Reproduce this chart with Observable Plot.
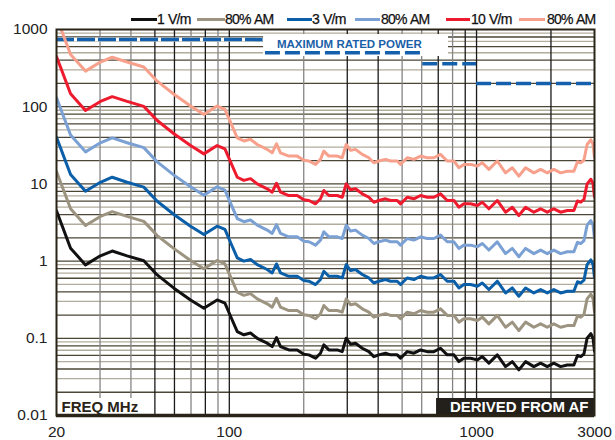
<!DOCTYPE html>
<html><head><meta charset="utf-8">
<script src="https://cdn.jsdelivr.net/npm/d3@7"></script>
<script src="https://cdn.jsdelivr.net/npm/@observablehq/plot@0.6"></script>
<style>
body{margin:0;background:#fff;font-family:Arial,"Liberation Sans",sans-serif}
#wrap{position:relative;width:615px;height:440px;overflow:hidden}
#legend{position:absolute;left:0;top:0;width:615px;height:30px;pointer-events:none}
.sw{position:absolute;height:3px;top:18px}
.lt{position:absolute;top:10px;font-size:14px;letter-spacing:-0.8px;word-spacing:1px;color:#111;line-height:18px;white-space:nowrap;-webkit-text-stroke:0.25px #111}
</style></head><body><div id="wrap"><div id="legend"></div></div>
<script>
// ---- data ----
const freqMHz = [20, 22.8, 26.2, 30.1, 33.6, 38.6, 45.1, 51.1, 59.7, 69.7, 78.9, 89.3, 96, 102, 107.7, 114.5, 121.8, 129.7, 142.3, 149.1, 155.2, 161.1, 174.1, 188.2, 200.2, 209.8, 223.3, 233.8, 241.2, 252.7, 273.3, 286.2, 297.1, 309.3, 323.9, 345, 366.8, 384.2, 402.5, 428.4, 448.8, 477.7, 492.8, 524.4, 557.8, 593.6, 631.7, 672, 715, 761, 810, 848, 889, 946, 1007, 1055, 1122, 1213, 1310, 1395, 1483, 1579, 1705, 1816, 1932, 2054, 2188, 2328, 2476, 2560, 2640, 2720, 2800, 2900, 2960, 3000];

const w1Vm = [4.47, 1.47, 0.893, 1.17, 1.35, 1.17, 1.01, 0.662, 0.446, 0.314, 0.245, 0.314, 0.285, 0.182, 0.122, 0.111, 0.117, 0.100, 0.0864, 0.0781, 0.102, 0.0781, 0.0707, 0.0707, 0.0622, 0.0610, 0.0552, 0.0641, 0.0821, 0.0707, 0.0707, 0.0672, 0.100, 0.0839, 0.0864, 0.0744, 0.0672, 0.0579, 0.0610, 0.0641, 0.0610, 0.0610, 0.0552, 0.0672, 0.0641, 0.0707, 0.0672, 0.0672, 0.0744, 0.0610, 0.0610, 0.0499, 0.0552, 0.0552, 0.0525, 0.0579, 0.0476, 0.0610, 0.0430, 0.0499, 0.0390, 0.0499, 0.0430, 0.0476, 0.0430, 0.0476, 0.0430, 0.0452, 0.0452, 0.060, 0.058, 0.063, 0.100, 0.115, 0.100, 0.068];

const w1VmAM = [14.5, 4.76, 2.89, 3.79, 4.37, 3.79, 3.27, 2.14, 1.45, 1.02, 0.794, 1.02, 0.923, 0.590, 0.395, 0.360, 0.379, 0.324, 0.280, 0.253, 0.330, 0.253, 0.229, 0.229, 0.202, 0.198, 0.179, 0.208, 0.266, 0.229, 0.229, 0.218, 0.324, 0.272, 0.280, 0.241, 0.218, 0.188, 0.198, 0.208, 0.198, 0.198, 0.179, 0.218, 0.208, 0.229, 0.218, 0.218, 0.241, 0.198, 0.198, 0.162, 0.179, 0.179, 0.170, 0.188, 0.154, 0.198, 0.139, 0.162, 0.126, 0.162, 0.139, 0.154, 0.139, 0.154, 0.139, 0.146, 0.146, 0.194, 0.188, 0.204, 0.324, 0.373, 0.324, 0.220];

const w3Vm = [40.2, 13.2, 8.04, 10.5, 12.2, 10.5, 9.09, 5.96, 4.01, 2.83, 2.21, 2.83, 2.57, 1.64, 1.10, 1.00, 1.05, 0.900, 0.778, 0.703, 0.918, 0.703, 0.636, 0.636, 0.560, 0.549, 0.497, 0.577, 0.739, 0.636, 0.636, 0.605, 0.900, 0.755, 0.778, 0.670, 0.605, 0.521, 0.549, 0.577, 0.549, 0.549, 0.497, 0.605, 0.577, 0.636, 0.605, 0.605, 0.670, 0.549, 0.549, 0.449, 0.497, 0.497, 0.473, 0.521, 0.428, 0.549, 0.387, 0.449, 0.351, 0.449, 0.387, 0.428, 0.387, 0.428, 0.387, 0.407, 0.407, 0.540, 0.522, 0.567, 0.900, 1.035, 0.900, 0.612];

const w3VmAM = [130, 42.9, 26.0, 34.1, 39.4, 34.1, 29.5, 19.3, 13.0, 9.16, 7.14, 9.16, 8.31, 5.31, 3.56, 3.24, 3.41, 2.92, 2.52, 2.28, 2.97, 2.28, 2.06, 2.06, 1.81, 1.78, 1.61, 1.87, 2.39, 2.06, 2.06, 1.96, 2.92, 2.45, 2.52, 2.17, 1.96, 1.69, 1.78, 1.87, 1.78, 1.78, 1.61, 1.96, 1.87, 2.06, 1.96, 1.96, 2.17, 1.78, 1.78, 1.46, 1.61, 1.61, 1.53, 1.69, 1.39, 1.78, 1.25, 1.46, 1.14, 1.46, 1.25, 1.39, 1.25, 1.39, 1.25, 1.32, 1.32, 1.75, 1.69, 1.84, 2.92, 3.35, 2.92, 1.98];

const w10Vm = [447, 147, 89.3, 117, 135, 117, 101, 66.2, 44.6, 31.4, 24.5, 31.4, 28.5, 18.2, 12.2, 11.1, 11.7, 10.0, 8.64, 7.81, 10.2, 7.81, 7.07, 7.07, 6.22, 6.10, 5.52, 6.41, 8.21, 7.07, 7.07, 6.72, 10.0, 8.39, 8.64, 7.44, 6.72, 5.79, 6.10, 6.41, 6.10, 6.10, 5.52, 6.72, 6.41, 7.07, 6.72, 6.72, 7.44, 6.10, 6.10, 4.99, 5.52, 5.52, 5.25, 5.79, 4.76, 6.10, 4.30, 4.99, 3.90, 4.99, 4.30, 4.76, 4.30, 4.76, 4.30, 4.52, 4.52, 6.0, 5.8, 6.3, 10.0, 11.5, 10.0, 6.8];

const w10VmAM = [1448, 476, 289, 379, 437, 379, 327, 214, 145, 102, 79.4, 102, 92.3, 59.0, 39.5, 36.0, 37.9, 32.4, 28.0, 25.3, 33.0, 25.3, 22.9, 22.9, 20.2, 19.8, 17.9, 20.8, 26.6, 22.9, 22.9, 21.8, 32.4, 27.2, 28.0, 24.1, 21.8, 18.8, 19.8, 20.8, 19.8, 19.8, 17.9, 21.8, 20.8, 22.9, 21.8, 21.8, 24.1, 19.8, 19.8, 16.2, 17.9, 17.9, 17.0, 18.8, 15.4, 19.8, 13.9, 16.2, 12.6, 16.2, 13.9, 15.4, 13.9, 15.4, 13.9, 14.6, 14.6, 19.4, 18.8, 20.4, 32.4, 37.3, 32.4, 22.0];

const seriesNames = ["1 V/m", "80% AM", "3 V/m", "80% AM", "10 V/m", "80% AM"];
const seriesValues = [w1Vm, w1VmAM, w3Vm, w3VmAM, w10Vm, w10VmAM];

// maximum rated power (W) steps
const powerFrom = [20, 140, 606, 1000];
const powerTo   = [137, 600, 1000, 3000];
const powerW    = [740, 500, 360, 200];

const xTicks = [20, 100, 1000, 3000];
const yTicks = [0.01, 0.1, 1, 10, 100, 1000];
const xGridDark = [50, 60, 80, 100, 300, 400, 700, 900, 1000, 2000];
const xGridLight = [30, 40, 70, 90, 200, 500, 600, 800];

// ---- styles ----
const seriesColors = ["#111111", "#9c9480", "#0b5ea8", "#7ba0d3", "#ee1b2f", "#f7a08b"];
const legendPos = [[131, 26, 157], [197, 28, 225], [287, 25, 312], [355, 25, 381], [446, 24, 471], [519, 26, 547]];

const yGridDark = [], yGridLight = [];
for (const base of [0.01, 0.1, 1, 10, 100]) {
  for (let m = 1; m <= 9; m++) {
    const v = +(m * base).toPrecision(3);
    if ([1, 2, 4, 6, 8].includes(m)) yGridDark.push(v); else yGridLight.push(v);
  }
}

const table = [];
seriesValues.forEach((vals, i) => vals.forEach((v, j) => table.push({f: freqMHz[j], v, s: i})));
const steps = powerW.map((w, i) => ({x1: powerFrom[i], x2: powerTo[i], y: w}));

const lineMarks = seriesValues.map((_, i) =>
  Plot.line(table.filter(d => d.s === i), {x: "f", y: "v", stroke: seriesColors[i], strokeWidth: 3, strokeLinejoin: "round", clip: true}));

const chart = Plot.plot({
  width: 615, height: 440,
  marginTop: 29, marginBottom: 25, marginLeft: 56, marginRight: 21,
  x: {type: "log", domain: [20, 3000]},
  y: {type: "log", domain: [0.01, 1000]},
  style: {fontFamily: "Arial, 'Liberation Sans', sans-serif", fontSize: "15.5px", color: "#222", background: "transparent", overflow: "visible"},
  marks: [
    Plot.ruleY(yGridLight, {stroke: "#b2ac9c", strokeWidth: 1.3}),
    Plot.ruleY(yGridDark, {stroke: "#4c4636", strokeWidth: 1.3}),
    Plot.ruleX(xGridLight, {stroke: "#858585", strokeWidth: 1.3}),
    Plot.ruleX(xGridDark, {stroke: "#1a1a1a", strokeWidth: 1.3}),
    Plot.rect([{x1: 137.6, x2: 770, y1: 447, y2: 861}], {x1: "x1", x2: "x2", y1: "y1", y2: "y2", fill: "white"}),
    Plot.rect([{x1: 20, x2: 45.8, y1: 0.01, y2: 0.0166}], {x1: "x1", x2: "x2", y1: "y1", y2: "y2", fill: "white"}),
    Plot.rect([{x1: 689, x2: 3000, y1: 0.01, y2: 0.0166}], {x1: "x1", x2: "x2", y1: "y1", y2: "y2", fill: "#231f1a"}),
    Plot.ruleY(steps.slice(0, 1), {y: "y", x1: "x1", x2: "x2", stroke: "white", strokeWidth: 4}),
    Plot.ruleY(steps.slice(0, 1), {y: "y", x1: "x1", x2: "x2", stroke: "#1560ac", strokeWidth: 3.5, strokeDasharray: "18,3"}),
    Plot.ruleY(steps.slice(1), {y: "y", x1: "x1", x2: "x2", stroke: "#1560ac", strokeWidth: 3.5, strokeDasharray: "15,5"}),
    ...lineMarks,
    Plot.text(["MAXIMUM RATED POWER"], {x: 306, y: 649, text: d => d, fill: "#1a5fa8", fontWeight: "bold", fontSize: 11.5}),
    Plot.text(["FREQ MHz"], {x: 20, y: 0.0128, dx: 5, text: d => d, textAnchor: "start", fill: "#2a2418", fontWeight: "bold", fontSize: 15}),
    Plot.text(["DERIVED FROM AF"], {x: 3000, y: 0.0128, dx: -6, text: d => d, textAnchor: "end", fill: "white", fontWeight: "bold", fontSize: 15}),
    Plot.frame({stroke: "#2a2418", strokeWidth: 2}),
    Plot.ruleY([0.01], {stroke: "#2a2418", strokeWidth: 3.5}),
    Plot.axisX({ticks: xTicks, tickSize: 0, tickPadding: 10, tickFormat: d => String(d), fontSize: 15.5, fill: "#222"}),
    Plot.axisY({ticks: yTicks, tickSize: 0, tickPadding: 9, tickFormat: d => String(d), fontSize: 15.5, fill: "#222"})
  ]
});
const wrap = document.getElementById("wrap");
wrap.insertBefore(chart, wrap.firstChild);

const legend = document.getElementById("legend");
seriesNames.forEach((name, i) => {
  const [sx, sw, tx] = legendPos[i];
  const s = document.createElement("div");
  s.className = "sw"; s.style.left = sx + "px"; s.style.width = sw + "px"; s.style.background = seriesColors[i];
  const t = document.createElement("div");
  t.className = "lt"; t.style.left = tx + "px"; t.textContent = name;
  legend.appendChild(s); legend.appendChild(t);
});
</script></body></html>
